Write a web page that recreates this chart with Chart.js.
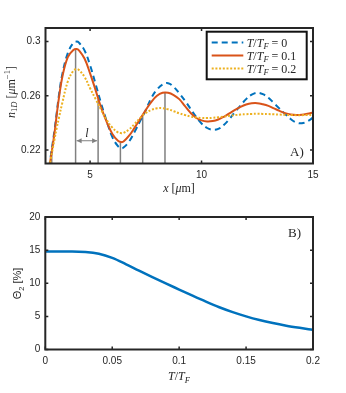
<!DOCTYPE html>
<html><head><meta charset="utf-8">
<script src="https://cdn.jsdelivr.net/npm/chart.js@4"></script>
<style>
html,body{margin:0;padding:0;background:#fff;width:346px;height:393px;overflow:hidden}
canvas{position:absolute;left:0}
#c1{top:0}
#c2{top:195px}
</style></head><body>
<canvas id="c1" width="346" height="195"></canvas>
<canvas id="c2" width="346" height="198"></canvas>
<script>
// ---------- Panel A data ----------
const xPos = [3.1,3.25,3.4,3.5,3.6,3.75,4.0,4.25,4.4,4.5,4.75,5.0,5.25,5.5,5.75,6.0,6.25,6.4,6.5,6.75,
  7.0,7.25,7.5,7.75,8.0,8.25,8.5,8.75,9.0,9.25,9.5,9.75,10.0,10.25,10.5,10.75,11.0,11.25,11.5,11.75,
  12.0,12.25,12.5,12.75,13.0,13.25,13.5,13.75,14.0,14.25,14.5,14.75,15.0];
const nT0 = [.2,.217,.234,.247,.26,.2755,.2915,.299,.3,.2992,.2935,.2825,.2685,.254,.241,.2295,.2228,.2213,.2218,.2262,
  .2335,.2415,.2495,.2585,.2645,.2683,.2693,.2665,.2618,.2565,.2505,.2445,.2395,.2362,.2349,.2355,.2385,.2428,.248,.2528,
  .2575,.2608,.2622,.2612,.2585,.2545,.2505,.2465,.2428,.2403,.2397,.2412,.2438];
const nT01 = [.199,.2155,.232,.2455,.258,.2735,.2885,.2938,.2945,.2935,.2875,.2765,.264,.251,.2405,.2318,.2268,.2258,.2262,.2305,
  .2365,.243,.2495,.2555,.26,.2622,.2622,.2605,.2575,.2525,.2475,.2438,.2418,.241,.2413,.2425,.2445,.247,.2495,.2518,
  .2535,.2544,.2545,.2537,.2525,.2507,.2488,.2472,.2462,.2458,.246,.2467,.2476];
const nT02 = [.2,.2145,.2275,.236,.2435,.2545,.2705,.2785,.2797,.279,.274,.2655,.2575,.2495,.242,.2365,.233,.2324,.2326,.2352,
  .2392,.2437,.2473,.2496,.2507,.2508,.25,.2486,.247,.2458,.2447,.244,.2436,.2435,.2437,.2441,.2446,.2452,.2457,.2461,
  .2464,.2466,.2467,.2466,.2465,.2463,.2461,.2459,.2458,.2457,.2457,.2458,.2459];
const markX = [3.28,4.35,5.36,6.36,7.36,8.36];
const markTop = [0.2206,0.2946,0.2575,0.2258,0.2454,0.2624];
const arrowY = 0.2268;
const xTicksA = [5,10,15];
const yTicksA = [0.22,0.26,0.3];
const seriesLabels = ['0','0.1','0.2'];

// ---------- Panel B data ----------
const tT = [0,0.01,0.02,0.03,0.04,0.05,0.06,0.07,0.08,0.09,0.1,0.11,0.12,0.13,0.14,0.15,0.16,0.17,0.18,0.19,0.2];
const theta2 = [14.8,14.8,14.8,14.73,14.45,13.82,12.9,11.9,10.93,9.98,9.05,8.12,7.22,6.38,5.64,5.0,4.45,3.99,3.6,3.27,2.97];
const xTicksB = [0,0.05,0.1,0.15,0.2];
const yTicksB = [0,5,10,15,20];

const BLUE='#0072BD', ORANGE='#D95319', YELLOW='#EDB120', GRAY='#808080', AX='#262626';
const SERIF='"Liberation Serif", "DejaVu Serif", serif';
const SANS='"Liberation Sans", Arial, sans-serif';

function rich(ctx, segs, x, y, align, rot){
  ctx.save(); ctx.translate(x,y); if(rot) ctx.rotate(rot);
  ctx.textBaseline='alphabetic'; ctx.textAlign='left'; ctx.fillStyle=AX;
  let w=0; segs.forEach(s=>{ctx.font=s.f; w+=ctx.measureText(s.t).width;});
  let cx = align==='center' ? -w/2 : 0;
  segs.forEach(s=>{ctx.font=s.f; ctx.fillText(s.t, cx, s.dy||0); cx+=ctx.measureText(s.t).width;});
  ctx.restore();
}
const it = (sz)=>'italic '+sz+'px '+SERIF;
const rm = (sz)=>sz+'px '+SERIF;

const boxPlugin = {
  id:'box',
  afterDraw(chart, args, opts){
    const ctx=chart.ctx, a=chart.chartArea;
    const xs=chart.scales.x, ys=chart.scales.y;
    ctx.save();
    ctx.strokeStyle=AX; ctx.lineWidth=1.5;
    const tl=3;
    xs.ticks.forEach(t=>{const p=xs.getPixelForValue(t.value);
      ctx.beginPath(); ctx.moveTo(p,a.bottom); ctx.lineTo(p,a.bottom-tl); ctx.moveTo(p,a.top); ctx.lineTo(p,a.top+tl); ctx.stroke();});
    ys.ticks.forEach(t=>{const p=ys.getPixelForValue(t.value);
      ctx.beginPath(); ctx.moveTo(a.left,p); ctx.lineTo(a.left+tl,p); ctx.moveTo(a.right,p); ctx.lineTo(a.right-tl,p); ctx.stroke();});
    ctx.lineWidth=2;
    ctx.strokeRect(a.left,a.top,a.right-a.left,a.bottom-a.top);
    ctx.restore();
    if(opts.extra) opts.extra(chart, ctx, a, xs, ys);
  }
};
Chart.register(boxPlugin);

function baseScales(xmin,xmax,ymin,ymax,xt,yt,yw,xh,fmtX,fmtY){
  return {
    x:{type:'linear',min:xmin,max:xmax,
      afterBuildTicks:s=>{s.ticks=xt.map(v=>({value:v}));},
      afterFit:s=>{s.height=xh;},
      grid:{display:false,drawTicks:false}, border:{display:false},
      ticks:{font:{family:SANS,size:10},color:AX,padding:6,maxRotation:0,autoSkip:false,callback:fmtX}},
    y:{type:'linear',min:ymin,max:ymax,
      afterBuildTicks:s=>{s.ticks=yt.map(v=>({value:v}));},
      afterFit:s=>{s.width=yw;},
      grid:{display:false,drawTicks:false}, border:{display:false},
      ticks:{font:{family:SANS,size:10},color:AX,padding:5,autoSkip:false,callback:fmtY}}
  };
}

// vertical marker lines built from data
const markData=[];
markX.forEach((x,i)=>{markData.push({x:x,y:0.21},{x:x,y:markTop[i]},{x:x,y:null});});

const pts=(xs,ys)=>xs.map((x,i)=>({x:x,y:ys[i]}));

new Chart(document.getElementById('c1'),{
  type:'line',
  data:{datasets:[
    {label:'T/T_F = 0',data:pts(xPos,nT0),borderColor:BLUE,borderWidth:2,borderDash:[6,4],pointRadius:0,tension:0.4,order:3},
    {label:'T/T_F = 0.1',data:pts(xPos,nT01),borderColor:ORANGE,borderWidth:2,pointRadius:0,tension:0.4,order:2},
    {label:'T/T_F = 0.2',data:pts(xPos,nT02),borderColor:YELLOW,borderWidth:2,borderDash:[2,1.7],pointRadius:0,tension:0.4,order:1},
    {label:'marks',data:markData,borderColor:GRAY,borderWidth:1.5,pointRadius:0,tension:0,spanGaps:false,order:10}
  ]},
  options:{
    responsive:false,animation:false,devicePixelRatio:1,
    layout:{padding:{left:0,right:33,top:28,bottom:0}},
    scales:baseScales(3,15,0.21,0.31,xTicksA,yTicksA,45.5,31.5,v=>String(v),v=>String(Math.round(v*100)/100)),
    plugins:{legend:{display:false},tooltip:{enabled:false},
      box:{extra:(chart,ctx,a,xs,ys)=>{
        // arrow l
        const x1=xs.getPixelForValue(markX[1]), x2=xs.getPixelForValue(markX[2]), y=ys.getPixelForValue(arrowY);
        ctx.save(); ctx.strokeStyle=GRAY; ctx.fillStyle=GRAY; ctx.lineWidth=1;
        ctx.beginPath(); ctx.moveTo(x1+1,y); ctx.lineTo(x2-1,y); ctx.stroke();
        ctx.beginPath(); ctx.moveTo(x1+1,y); ctx.lineTo(x1+6,y-2.5); ctx.lineTo(x1+6,y+2.5); ctx.closePath(); ctx.fill();
        ctx.beginPath(); ctx.moveTo(x2-1,y); ctx.lineTo(x2-6,y-2.5); ctx.lineTo(x2-6,y+2.5); ctx.closePath(); ctx.fill();
        ctx.restore();
        rich(ctx,[{t:'l',f:it(12)}],(x1+x2)/2,y-3.5,'center');
        // legend
        const lx=a.right-106.3, ly=a.top+3.7, lw=100, lh=47.6;
        ctx.save(); ctx.fillStyle='#fff'; ctx.fillRect(lx,ly,lw,lh);
        ctx.strokeStyle='#111'; ctx.lineWidth=2; ctx.strokeRect(lx,ly,lw,lh);
        const ds=chart.data.datasets;
        [0,1,2].forEach(i=>{
          const cy=ly+10.8+i*13;
          ctx.strokeStyle=ds[i].borderColor; ctx.lineWidth=2; ctx.setLineDash(ds[i].borderDash||[]);
          ctx.beginPath(); ctx.moveTo(lx+5,cy); ctx.lineTo(lx+36.6,cy); ctx.stroke();
          ctx.setLineDash([]);
          rich(ctx,[{t:'T',f:it(12)},{t:'/',f:rm(12)},{t:'T',f:it(12)},{t:'F',f:it(8.5),dy:2.5},{t:' = '+seriesLabels[i],f:rm(12)}],lx+40,cy+4,'left');
        });
        ctx.restore();
        // A)
        rich(ctx,[{t:'A)',f:rm(13)}],a.right-23,a.bottom-7.5,'left');
        // axis titles
        rich(ctx,[{t:'x',f:it(12)},{t:' [',f:rm(12)},{t:'μ',f:it(12)},{t:'m]',f:rm(12)}],179,192,'center');
        rich(ctx,[{t:'n',f:it(12)},{t:'1',f:rm(8.5),dy:2.5},{t:'D',f:it(8.5),dy:2.5},{t:' [',f:rm(12)},{t:'μ',f:it(12)},{t:'m',f:rm(12)},{t:'−1',f:rm(8.5),dy:-5},{t:']',f:rm(12)}],14.5,92,'center',-Math.PI/2);
      }}}
  }
});

new Chart(document.getElementById('c2'),{
  type:'line',
  data:{datasets:[
    {label:'Theta2',data:pts(tT,theta2),borderColor:BLUE,borderWidth:2.5,pointRadius:0,cubicInterpolationMode:'monotone'}
  ]},
  options:{
    responsive:false,animation:false,devicePixelRatio:1,
    layout:{padding:{left:0,right:33,top:22,bottom:0}},
    scales:baseScales(0,0.2,0,20,xTicksB,yTicksB,45.3,43.5,v=>String(v),v=>String(v)),
    plugins:{legend:{display:false},tooltip:{enabled:false},
      box:{extra:(chart,ctx,a)=>{
        rich(ctx,[{t:'B)',f:rm(13)}],a.right-25,a.top+20,'left');
        rich(ctx,[{t:'T',f:it(12)},{t:'/',f:rm(12)},{t:'T',f:it(12)},{t:'F',f:it(8.5),dy:2.5}],179,185,'center');
        rich(ctx,[{t:'Θ',f:'11px '+SANS},{t:'2',f:'7.5px '+SANS,dy:2.5},{t:' [%]',f:'11px '+SANS}],21,88.5,'center',-Math.PI/2);
      }}}
  }
});
</script>
</body></html>
